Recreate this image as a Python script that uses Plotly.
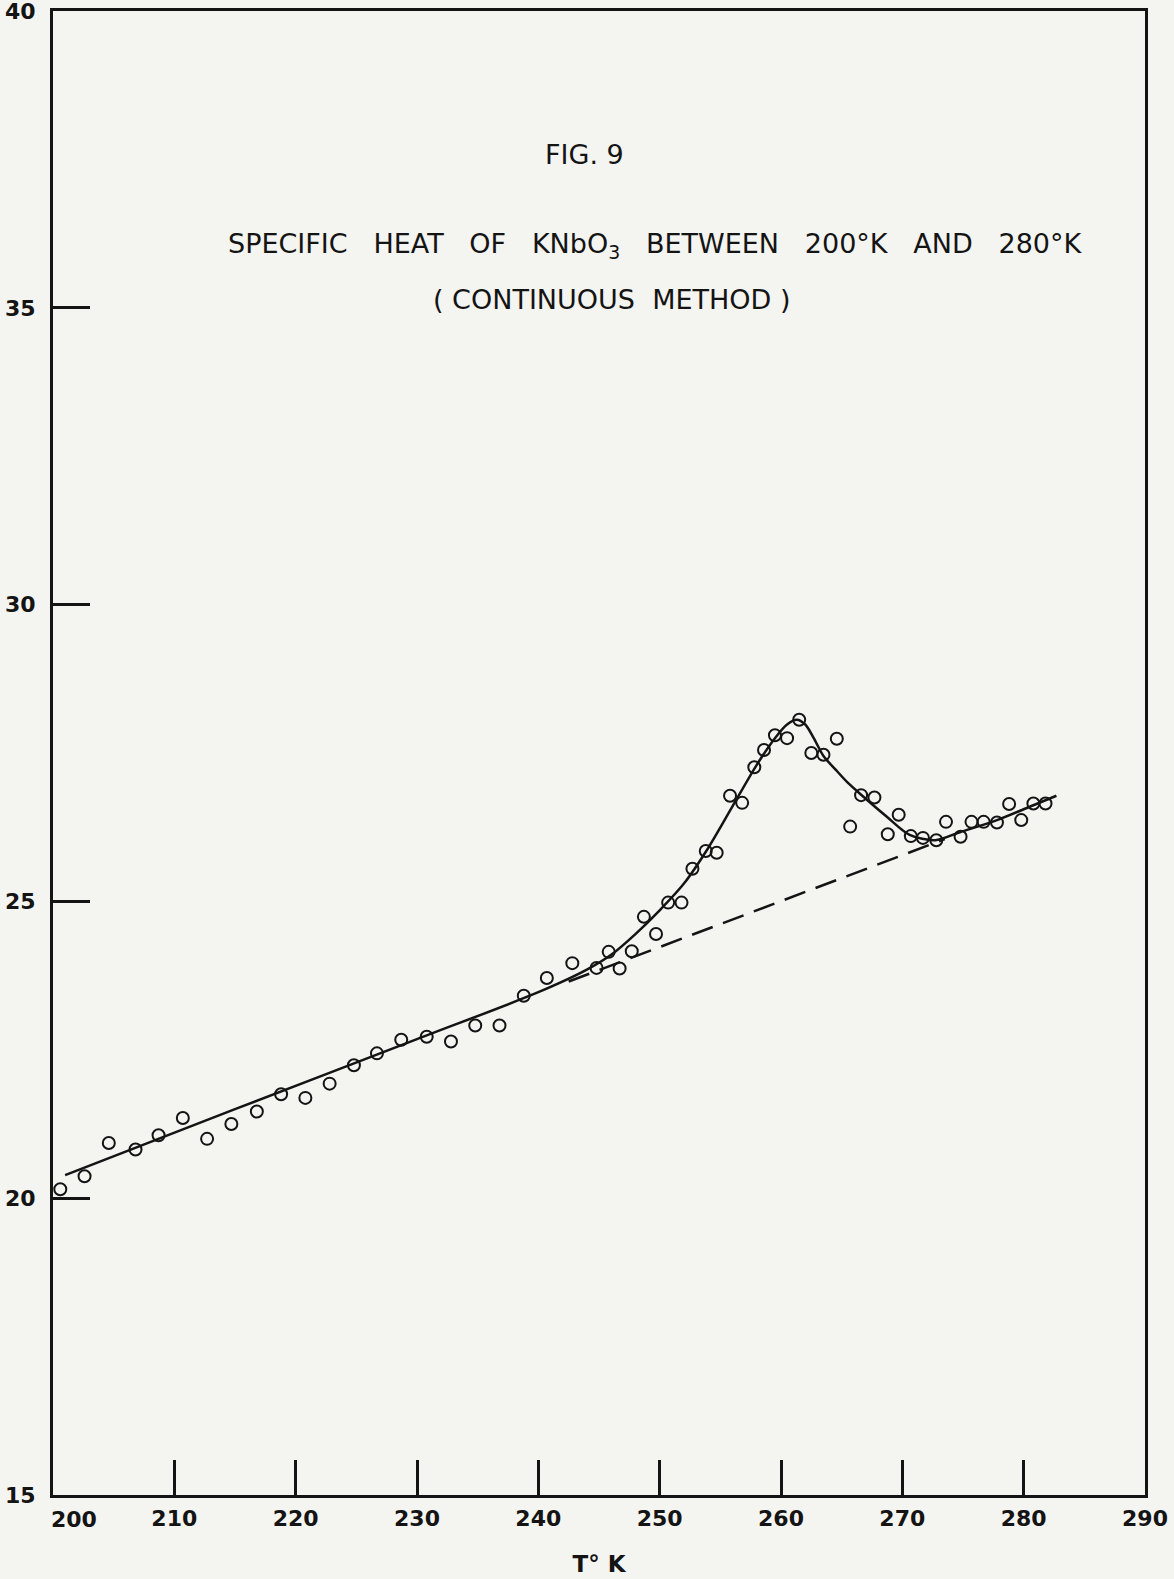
import plotly.graph_objects as go

# Observed data points (T in K, specific heat)
T_obs = [200.6, 202.6, 204.6, 206.8, 208.7, 210.7, 212.7, 214.7, 216.8, 218.8,
         220.8, 222.8, 224.8, 226.7, 228.7, 230.8, 232.8, 234.8, 236.8, 238.8,
         240.7, 242.8, 244.8, 245.8, 246.7, 247.7, 248.7, 249.7, 250.7, 251.8,
         252.7, 253.8, 254.7, 255.8, 256.8, 257.8, 258.6, 259.5, 260.5, 261.5,
         262.5, 263.5, 264.6, 265.7, 266.6, 267.7, 268.8, 269.7, 270.7, 271.7,
         272.8, 273.6, 274.8, 275.7, 276.7, 277.8, 278.8, 279.8, 280.8, 281.8]
C_obs = [20.15, 20.37, 20.93, 20.82, 21.06, 21.35, 21.00, 21.25, 21.46, 21.75,
         21.69, 21.93, 22.24, 22.44, 22.67, 22.72, 22.64, 22.91, 22.91, 23.41,
         23.71, 23.96, 23.88, 24.15, 23.87, 24.16, 24.74, 24.45, 24.98, 24.98,
         25.55, 25.85, 25.82, 26.78, 26.66, 27.26, 27.55, 27.80, 27.75, 28.06,
         27.50, 27.47, 27.74, 26.26, 26.79, 26.75, 26.13, 26.46, 26.10, 26.07,
         26.03, 26.34, 26.09, 26.34, 26.34, 26.33, 26.64, 26.37, 26.65, 26.65]

# Hand-drawn smooth curve through the data
T_fit = [201.0, 215.0, 230.0, 240.0, 244.0, 246.0, 248.0, 250.0, 252.0, 254.0,
         256.0, 258.0, 259.5, 260.5, 261.3, 262.0, 262.7, 263.5, 264.5, 265.5,
         266.7, 268.7, 270.6, 272.7, 274.8, 277.8, 280.8, 282.7]
C_fit = [20.39, 21.50, 22.68, 23.47, 23.85, 24.10, 24.45, 24.85, 25.30, 25.90,
         26.60, 27.30, 27.75, 27.98, 28.06, 27.98, 27.75, 27.45, 27.22, 27.00,
         26.78, 26.43, 26.12, 26.03, 26.17, 26.37, 26.62, 26.78]

# Dashed extrapolated background
T_base = [242.5, 273.5]
C_base = [23.65, 26.05]

x_ticks = [210, 220, 230, 240, 250, 260, 270, 280, 290]
y_ticks = [15, 20, 25, 30, 35, 40]

INK = "#141414"
BG = "#f4f4f1"
FONT = "DejaVu Sans"
tick_font = dict(family=FONT, size=22, color=INK, weight="bold")

fig = go.Figure()
fig.add_trace(go.Scatter(x=T_base, y=C_base, mode="lines",
                         line=dict(color=INK, width=2.5, dash="22px,11px"),
                         showlegend=False, hoverinfo="skip"))
fig.add_trace(go.Scatter(x=T_fit, y=C_fit, mode="lines",
                         line=dict(color=INK, width=2.5, shape="spline", smoothing=0.8),
                         showlegend=False, hoverinfo="skip"))
fig.add_trace(go.Scatter(x=T_obs, y=C_obs, mode="markers",
                         marker=dict(symbol="circle-open", size=12, color=INK,
                                     line=dict(width=2, color=INK)),
                         showlegend=False))

fig.update_xaxes(range=[200, 290], tickvals=x_ticks, automargin=False,
                 ticks="inside", ticklen=35, tickwidth=2.5, tickcolor=INK,
                 showline=True, linewidth=3, linecolor=INK, mirror=True,
                 showgrid=False, zeroline=False, tickfont=tick_font,
                 ticklabelstandoff=2, ticklabeloverflow="allow",
                 title=dict(text="T° K", font=dict(family=FONT, size=23, color=INK, weight="bold"),
                            standoff=26))
fig.update_yaxes(range=[15, 40], tickvals=y_ticks, automargin=False,
                 ticks="inside", ticklen=37, tickwidth=2.5, tickcolor=INK,
                 showline=True, linewidth=3, linecolor=INK, mirror=True,
                 showgrid=False, zeroline=False, tickfont=tick_font,
                 ticklabelstandoff=10, ticklabeloverflow="allow")

sp = "\u00a0\u00a0\u00a0"
title_font = dict(family=FONT, size=27, color=INK)
fig.add_annotation(text="FIG. 9", x=0.487, y=0.903, xref="paper", yref="paper",
                   xanchor="center", yanchor="middle", showarrow=False, font=title_font)
fig.add_annotation(text=sp.join(["SPECIFIC", "HEAT", "OF", "KNbO<sub>3</sub>", "BETWEEN",
                                 "200°K", "AND", "280°K"]),
                   x=0.552, y=0.842, xref="paper", yref="paper",
                   xanchor="center", yanchor="middle", showarrow=False, font=title_font)
fig.add_annotation(text="(\u00a0CONTINUOUS\u00a0\u00a0METHOD )", x=0.511, y=0.8058,
                   xref="paper", yref="paper", xanchor="center", yanchor="middle",
                   showarrow=False, font=title_font)
fig.add_annotation(text="200", x=200, y=15, xref="x", yref="y", xshift=21, yshift=-24,
                   showarrow=False, font=tick_font)

fig.update_layout(width=1174, height=1579,
                  margin=dict(l=53, r=29, t=11, b=84),
                  paper_bgcolor=BG, plot_bgcolor=BG)

fig.write_html("out.html")
